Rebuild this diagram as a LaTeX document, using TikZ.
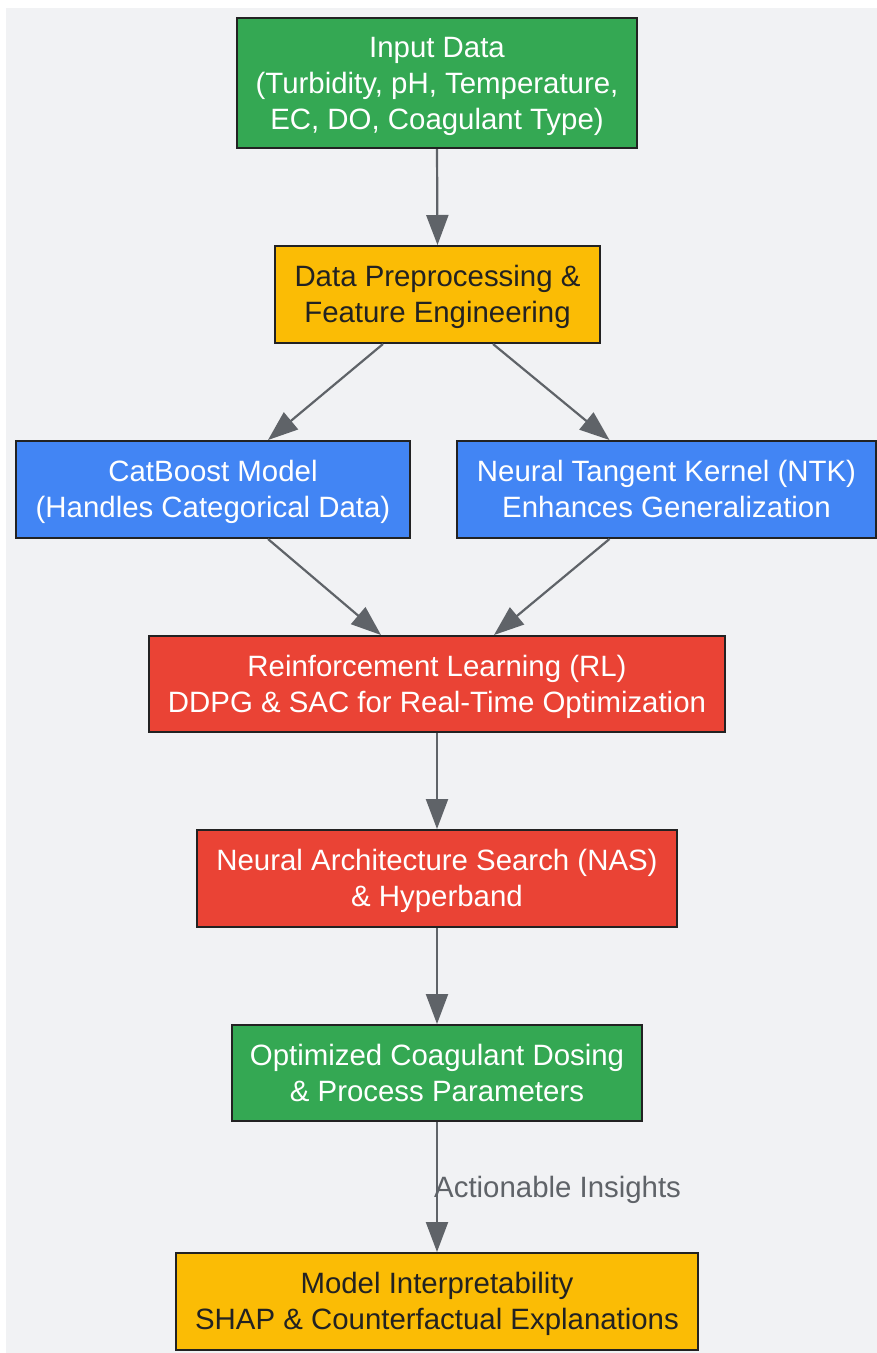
\documentclass[tikz,border=0pt]{standalone}
\usepackage{fontspec}
\setmainfont{Liberation Sans}
\usetikzlibrary{arrows.meta,calc}
\definecolor{bgc}{HTML}{F1F2F4}
\definecolor{gr}{HTML}{34A853}
\definecolor{ye}{HTML}{FBBC05}
\definecolor{bl}{HTML}{4285F4}
\definecolor{re}{HTML}{EA4335}
\definecolor{bd}{HTML}{222222}
\definecolor{ar}{HTML}{5F6368}
\tikzset{
  box/.style={draw=bd,line width=2pt,rectangle,inner sep=0pt},
  txt/.style={inner sep=0pt,align=center,font=\fontsize{29.4}{36}\selectfont},
  wtxt/.style={txt,text=white},
  dtxt/.style={txt,text=bd},
  conn/.style={draw=ar,line width=2.2pt,-{Triangle[length=30pt,width=22pt]}},
  lbl/.style={text=ar,font=\fontsize{29.4}{36}\selectfont,inner sep=0pt}
}
\begin{document}
\begin{tikzpicture}[x=1pt,y=-1pt]
\useasboundingbox (0,0) rectangle (877,1353);
\fill[bgc] (6,8) rectangle (877,1353);
\node[box,fill=gr,minimum width=400pt,minimum height=130pt] (inp) at (437,83) {};
\node[wtxt] (inpt) at ([yshift=-3pt]inp.center)
  {\strut Input Data\\\strut(Turbidity, pH, Temperature,\\\strut EC, DO, Coagulant Type)};
\node[box,fill=ye,minimum width=325pt,minimum height=97pt] (pre) at (437.5,294.5) {};
\node[dtxt] (pret) at ([yshift=-3pt]pre.center)
  {\strut Data Preprocessing \&\\\strut Feature Engineering};
\node[box,fill=bl,minimum width=394pt,minimum height=97pt] (cat) at (213,489.5) {};
\node[wtxt] (catt) at ([yshift=-3pt]cat.center)
  {\strut CatBoost Model\\\strut(Handles Categorical Data)};
\node[box,fill=bl,minimum width=419pt,minimum height=97pt] (ntk) at (666.5,489.5) {};
\node[wtxt] (ntkt) at ([yshift=-3pt]ntk.center)
  {\strut Neural Tangent Kernel (NTK)\\\strut Enhances Generalization};
\node[box,fill=re,minimum width=576pt,minimum height=96pt] (rl) at (437,684) {};
\node[wtxt] (rlt) at ([yshift=-3pt]rl.center)
  {\strut Reinforcement Learning (RL)\\\strut DDPG \& SAC for Real-Time Optimization};
\node[box,fill=re,minimum width=480pt,minimum height=97pt] (nas) at (437,878.5) {};
\node[wtxt] (nast) at ([yshift=-3pt]nas.center)
  {\strut Neural Architecture Search (NAS)\\\strut\& Hyperband};
\node[box,fill=gr,minimum width=410pt,minimum height=96pt] (opt) at (437,1073) {};
\node[wtxt] (optt) at ([yshift=-3pt]opt.center)
  {\strut Optimized Coagulant Dosing\\\strut\& Process Parameters};
\node[box,fill=ye,minimum width=522pt,minimum height=97pt] (mi) at (437,1301.5) {};
\node[dtxt] (mit) at ([yshift=-3pt]mi.center)
  {\strut Model Interpretability\\\strut SHAP \& Counterfactual Explanations};
\draw[conn] (inp.south) -- (pre.north);
\draw[conn] ([xshift=-54.5pt]pre.south) -- ([xshift=55pt]cat.north);
\draw[conn] ([xshift=55.5pt]pre.south) -- ([xshift=-57pt]ntk.north);
\draw[conn] ([xshift=55pt]cat.south) -- ([xshift=-56pt]rl.north);
\draw[conn] ([xshift=-57pt]ntk.south) -- ([xshift=57pt]rl.north);
\draw[conn] (rl.south) -- (nas.north);
\draw[conn] (nas.south) -- (opt.north);
\draw[conn] (opt.south) -- (mi.north);
\node[lbl,anchor=west] (al) at (434,1190) {Actionable Insights};
\end{tikzpicture}
\end{document}
